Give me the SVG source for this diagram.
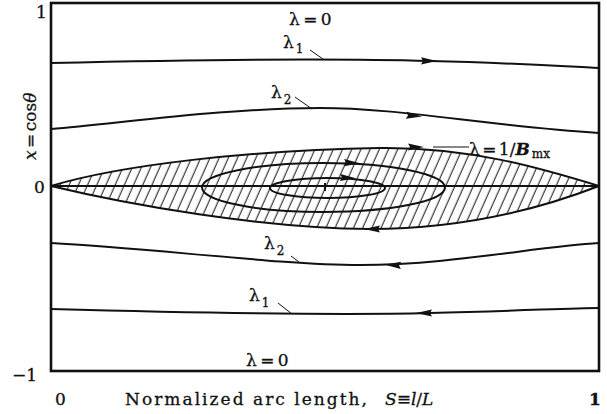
<svg xmlns="http://www.w3.org/2000/svg" width="607" height="414" viewBox="0 0 607 414">
<style>
.ln{fill:none;stroke:#111;stroke-width:2}
.frame{fill:none;stroke:#111;stroke-width:2.6}
.ld{fill:none;stroke:#111;stroke-width:1}
.t{font-family:"DejaVu Serif","Liberation Serif",serif;font-size:17px;fill:#111;stroke:#111;stroke-width:0.3}
.s{font-size:12px}
.ah{fill:#111}
</style>
<defs>
<path id="arr" d="M7,0 L-9,-3.6 L-7,0 L-9,3.6 Z"/>
<pattern id="hatch" patternUnits="userSpaceOnUse" width="8.4" height="20" patternTransform="rotate(24)">
<line x1="4" y1="-2" x2="4" y2="22" stroke="#111" stroke-width="1"/>
</pattern>
<clipPath id="lensclip">
<path d="M51,186 C120,165 250,150 380,148 C470,147 540,168 599,186 C550,205 470,229 370,229 C260,228 130,205 51,186 Z"/>
</clipPath>
</defs>
<rect width="607" height="414" fill="#fff"/>
<g id="lens">
<rect x="51" y="140" width="548" height="95" fill="url(#hatch)" clip-path="url(#lensclip)"/>
</g>
<g id="connectors">
<rect class="frame" x="51" y="3" width="548" height="368"/>
<line class="ln" x1="51" y1="186" x2="599" y2="186"/>
<path class="ln" d="M51,63 C180,60 330,58 430,61 C520,63 570,67 599,68"/>
<path class="ln" d="M51,129 C130,122 230,108 320,108 C400,108 480,125 599,133"/>
<path class="ln" stroke-width="2.4" d="M51,186 C120,165 250,150 380,148 C470,147 540,168 599,186"/>
<path class="ln" stroke-width="2.4" d="M51,186 C130,205 260,228 370,229 C470,229 550,205 599,186"/>
<path class="ln" d="M51,243 C150,248 280,265 360,265 C450,265 540,246 599,243"/>
<path class="ln" d="M51,309 C200,313 350,315 430,313 C520,311 570,308 599,308"/>
<ellipse class="ln" stroke-width="2.4" cx="323.5" cy="187.5" rx="121.5" ry="24.5"/>
<ellipse class="ln" stroke-width="2.4" cx="327.5" cy="188" rx="57.5" ry="10"/>
<line x1="325" y1="191" x2="325" y2="183" stroke="#111" stroke-width="2"/>
<use href="#arr" class="ah" transform="translate(430,61) rotate(1)"/>
<use href="#arr" class="ah" transform="translate(415,116) rotate(5)"/>
<use href="#arr" class="ah" transform="translate(417,147) rotate(0)"/>
<use href="#arr" class="ah" transform="translate(353,163) rotate(2)"/>
<use href="#arr" class="ah" transform="translate(349,178) rotate(3)"/>
<use href="#arr" class="ah" transform="translate(371,229) rotate(180)"/>
<use href="#arr" class="ah" transform="translate(392,265) rotate(182)"/>
<use href="#arr" class="ah" transform="translate(423,313) rotate(180)"/>
<line class="ld" x1="310" y1="50" x2="323" y2="59"/>
<line class="ld" x1="295" y1="97" x2="312" y2="109"/>
<line class="ld" x1="433" y1="147" x2="469" y2="147"/>
<line class="ld" x1="291" y1="256" x2="299" y2="262"/>
<line class="ld" x1="278" y1="303" x2="292" y2="314"/>
</g>
<g id="labels">
<text class="t" x="289" y="25" font-size="16" word-spacing="-2">λ = 0</text>
<text class="t" x="283" y="48">λ<tspan class="s" dx="2" dy="5">1</tspan></text>
<text class="t" x="271" y="98">λ<tspan class="s" dx="2" dy="6">2</tspan></text>
<text class="t" x="264" y="249">λ<tspan class="s" dx="2" dy="6">2</tspan></text>
<text class="t" x="249" y="301">λ<tspan class="s" dx="2" dy="6">1</tspan></text>
<text class="t" x="246" y="366" font-size="16" word-spacing="-2">λ = 0</text>
<text class="t" x="469" y="155" font-size="18" word-spacing="-3">λ = 1/<tspan font-weight="bold" font-style="italic">B</tspan><tspan class="s" font-size="14" dx="2" dy="3">mx</tspan></text>
<text class="t" x="36" y="18" font-size="17">1</text>
<text class="t" x="34" y="193" font-size="17">0</text>
<text class="t" x="12" y="381" font-size="17">−1</text>
<text class="t" x="55" y="405" font-size="16">0</text>
<text class="t" x="589" y="405" font-size="16" font-weight="bold">1</text>
<text class="t" x="125" y="405" font-size="17" textLength="242" lengthAdjust="spacing">Normalized arc length,</text>
<text class="t" x="385" y="405" font-size="17"><tspan font-style="italic">S</tspan>≡<tspan font-style="italic">l</tspan>/<tspan font-style="italic">L</tspan></text>
<text class="t" font-size="19" word-spacing="-3" transform="translate(36,160) rotate(-90)"><tspan font-style="italic">x</tspan> = cos<tspan font-style="italic">θ</tspan></text>
</g>
</svg>
